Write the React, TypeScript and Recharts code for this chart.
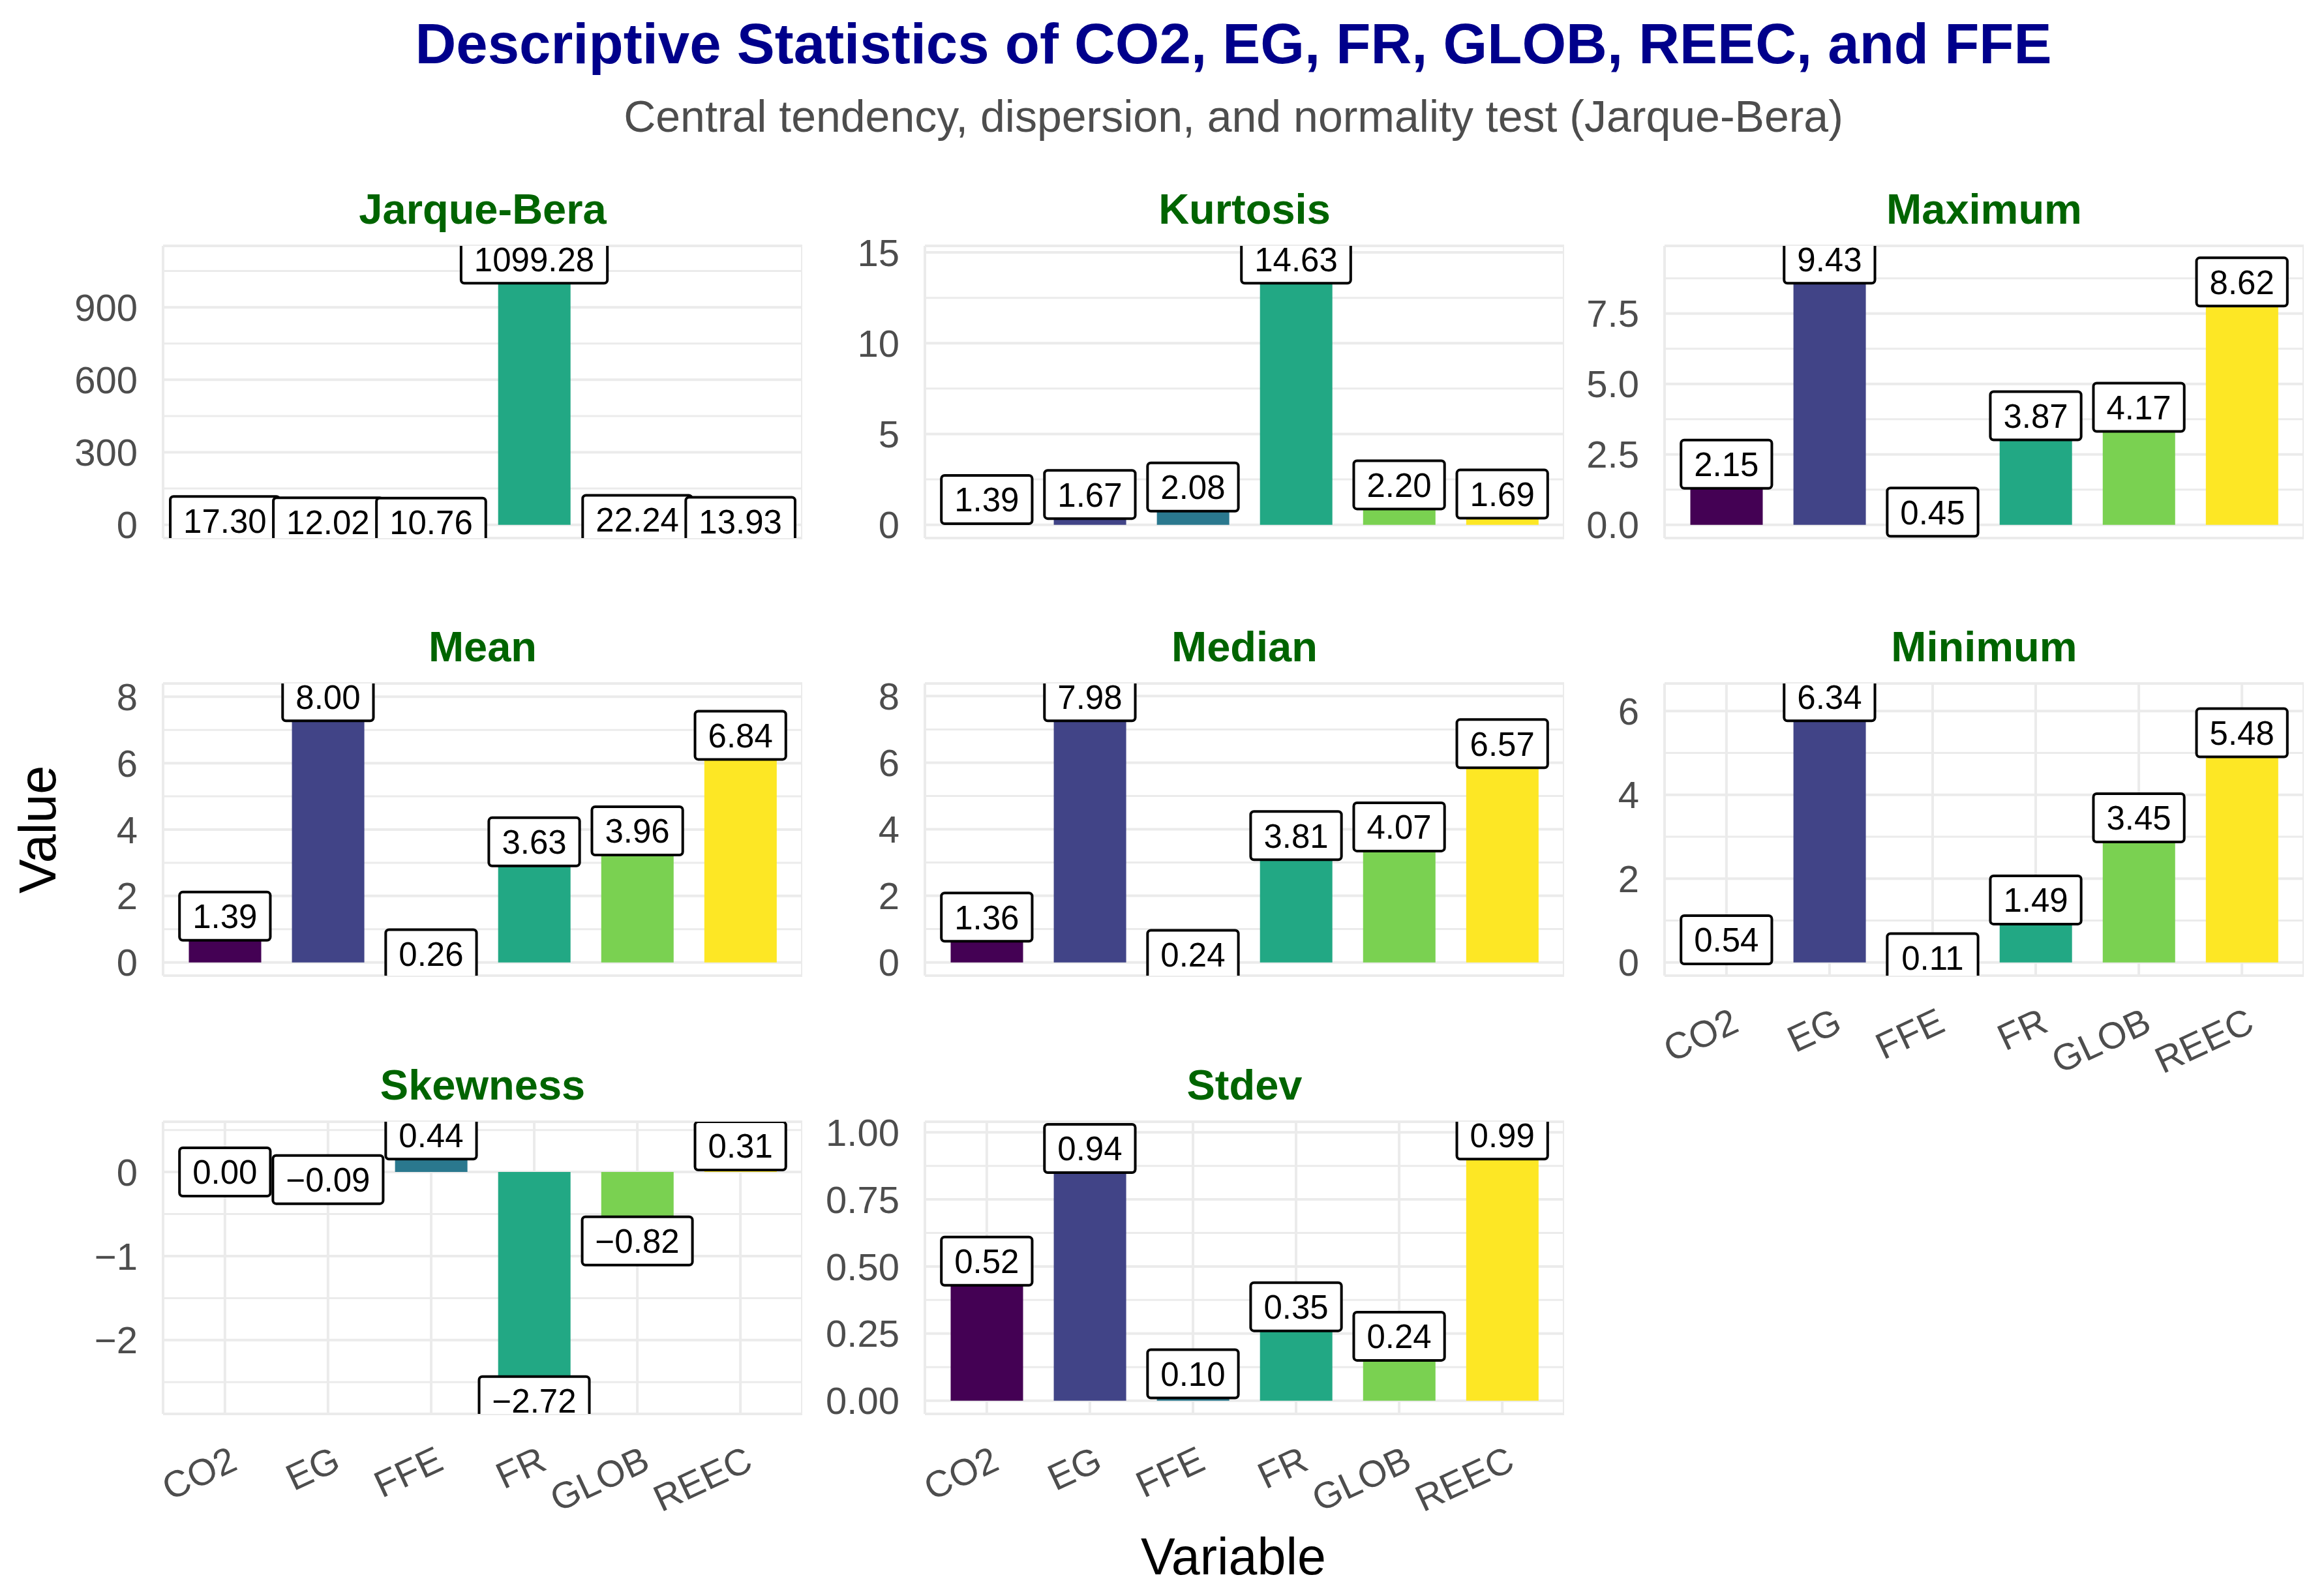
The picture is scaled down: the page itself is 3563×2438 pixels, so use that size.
import React from "react"
import { Bar, CartesianGrid, Cell, ComposedChart, Line, XAxis, YAxis } from "recharts"

// ---- data ----
const VARIABLES = ["CO2", "EG", "FFE", "FR", "GLOB", "REEC"]
const VIRIDIS = ["#440154", "#414487", "#2A788E", "#22A884", "#7AD151", "#FDE725"]

const jarqueBera = [17.3, 12.02, 10.76, 1099.28, 22.24, 13.93]
const kurtosis = [1.39, 1.67, 2.08, 14.63, 2.2, 1.69]
const maximum = [2.15, 9.43, 0.45, 3.87, 4.17, 8.62]
const mean = [1.39, 8.0, 0.26, 3.63, 3.96, 6.84]
const median = [1.36, 7.98, 0.24, 3.81, 4.07, 6.57]
const minimum = [0.54, 6.34, 0.11, 1.49, 3.45, 5.48]
const skewness = [0.0, -0.09, 0.44, -2.72, -0.82, 0.31]
const stdev = [0.52, 0.94, 0.1, 0.35, 0.24, 0.99]

// axis breaks
const jbTicks = [0, 300, 600, 900]
const jbMinor = [150, 450, 750, 1050]
const kurtTicks = [0, 5, 10, 15]
const kurtMinor = [2.5, 7.5, 12.5]
const maxTicks = [0, 2.5, 5, 7.5]
const maxMinor = [1.25, 3.75, 6.25, 8.75]
const meanTicks = [0, 2, 4, 6, 8]
const meanMinor = [1, 3, 5, 7]
const minTicks = [0, 2, 4, 6]
const minMinor = [1, 3, 5]
const skewTicks = [-2, -1, 0]
const skewMinor = [-2.5, -1.5, -0.5, 0.5]
const sdTicks = [0, 0.25, 0.5, 0.75, 1]
const sdMinor = [0.125, 0.375, 0.625, 0.875]

// ---- layout ----
const FONT = '"Liberation Sans", Arial, Helvetica, sans-serif'
const COL_LEFT = [250, 1418, 2552]
const ROW_TOP = [377, 1048, 1720]
const PLOT_W = 980
const PLOT_H = 448
const YW = 230
const MT = 50
const XH = 160
const PAD = 15.8
const LABEL_SIZE = 51
const GRID = "#EBEBEB"

const minus = (s: string) => s.replace("-", "\u2212")
const int = (v: number) => minus(String(v))
const fix1 = (v: number) => minus(v.toFixed(1))
const fix2 = (v: number) => minus(v.toFixed(2))

type Panel = {
  key: string
  title: string
  values: number[]
  ticks: number[]
  minor: number[]
  fmt: (v: number) => string
  row: number
  col: number
  showX: boolean
}

const PANELS: Panel[] = [
  { key: "jb", title: "Jarque-Bera", values: jarqueBera, ticks: jbTicks, minor: jbMinor, fmt: int, row: 0, col: 0, showX: false },
  { key: "ku", title: "Kurtosis", values: kurtosis, ticks: kurtTicks, minor: kurtMinor, fmt: int, row: 0, col: 1, showX: false },
  { key: "mx", title: "Maximum", values: maximum, ticks: maxTicks, minor: maxMinor, fmt: fix1, row: 0, col: 2, showX: false },
  { key: "me", title: "Mean", values: mean, ticks: meanTicks, minor: meanMinor, fmt: int, row: 1, col: 0, showX: false },
  { key: "md", title: "Median", values: median, ticks: meanTicks, minor: meanMinor, fmt: int, row: 1, col: 1, showX: false },
  { key: "mn", title: "Minimum", values: minimum, ticks: minTicks, minor: minMinor, fmt: int, row: 1, col: 2, showX: true },
  { key: "sk", title: "Skewness", values: skewness, ticks: skewTicks, minor: skewMinor, fmt: int, row: 2, col: 0, showX: true },
  { key: "sd", title: "Stdev", values: stdev, ticks: sdTicks, minor: sdMinor, fmt: fix2, row: 2, col: 1, showX: true },
]

function textWidth(s: string, size: number) {
  let w = 0
  for (const ch of s) w += ch === "." ? 0.278 : ch === "\u2212" ? 0.584 : 0.556
  return w * size
}

// ggplot-style 5% expansion around data (bars start at 0)
function domainOf(values: number[]): [number, number] {
  const lo = Math.min(0, ...values)
  const hi = Math.max(0, ...values)
  const r = hi - lo
  return [lo - 0.05 * r, hi + 0.05 * r]
}

// geom_label look-alike, centred on the value point, clipped to the panel
function makeLabel(p: Panel) {
  return (props: any) => {
    const vb = props.viewBox || {}
    const x = props.x ?? vb.x
    const y = props.y ?? vb.y
    const index = props.index
    const v = typeof props.value === "number" ? props.value : p.values[index]
    if (x == null || y == null || v == null) return null
    const txt = fix2(v)
    const w = textWidth(txt, LABEL_SIZE) + 40
    const h = 74
    const id = `clip-${p.key}-${index}`
    return (
      <g key={id}>
        <defs>
          <clipPath id={id}>
            <rect x={YW} y={MT} width={PLOT_W} height={PLOT_H} />
          </clipPath>
        </defs>
        <g clipPath={`url(#${id})`}>
          <rect x={x - w / 2} y={y - h / 2} width={w} height={h} rx={5} fill="#fff" stroke="#000" strokeWidth={4} />
          <text x={x} y={y} dy="0.36em" textAnchor="middle" fontSize={LABEL_SIZE} fontFamily={FONT} fill="#000">
            {txt}
          </text>
        </g>
      </g>
    )
  }
}

function XTick({ x, y, payload }: any) {
  return (
    <g transform={`translate(${x + 22},${y + 84})`}>
      <text transform="rotate(-25)" textAnchor="end" fontSize={57} fontFamily={FONT} fill="#4D4D4D">
        {payload.value}
      </text>
    </g>
  )
}

function PanelChart({ p }: { p: Panel }) {
  const [lo, hi] = domainOf(p.values)
  const data = VARIABLES.map((name, i) => ({ name, value: p.values[i] }))
  const minorGen = ({ yAxis, offset }: any) => {
    const s = yAxis && yAxis.scale
    if (typeof s === "function") return p.minor.map((v) => s(v))
    const top = offset?.top ?? MT
    const h = offset?.height ?? PLOT_H
    return p.minor.map((v) => top + (h * (hi - v)) / (hi - lo))
  }
  return (
    <div style={{ position: "absolute", left: COL_LEFT[p.col] - YW, top: ROW_TOP[p.row] - MT }}>
      <ComposedChart
        width={YW + PLOT_W}
        height={MT + PLOT_H + XH}
        data={data}
        margin={{ top: MT, right: 0, left: 0, bottom: 0 }}
        barCategoryGap="15%"
      >
        <CartesianGrid vertical={false} stroke={GRID} strokeWidth={3} horizontalCoordinatesGenerator={minorGen} />
        <CartesianGrid stroke={GRID} strokeWidth={4} />
        <XAxis
          dataKey="name"
          type="category"
          height={XH}
          padding={{ left: PAD, right: PAD }}
          axisLine={false}
          tickLine={false}
          tickSize={0}
          tickMargin={0}
          interval={0}
          tick={p.showX ? <XTick /> : false}
        />
        <YAxis
          type="number"
          width={YW}
          domain={[lo, hi]}
          ticks={p.ticks}
          tickFormatter={p.fmt}
          axisLine={false}
          tickLine={false}
          tickSize={0}
          tickMargin={39}
          interval={0}
          tick={{ fontSize: 58, fill: "#4D4D4D", fontFamily: FONT }}
        />
        <Bar dataKey="value" isAnimationActive={false}>
          {data.map((_, i) => (
            <Cell key={i} fill={VIRIDIS[i % VIRIDIS.length]} />
          ))}
        </Bar>
        <Line
          dataKey="value"
          stroke="none"
          dot={false}
          activeDot={false}
          isAnimationActive={false}
          label={makeLabel(p)}
        />
      </ComposedChart>
    </div>
  )
}

export default function App() {
  const centerX = (COL_LEFT[0] + COL_LEFT[2] + PLOT_W) / 2
  return (
    <div style={{ position: "absolute", left: 0, top: 0, width: 3563, height: 2438, background: "#fff", overflow: "hidden" }}>
      {PANELS.map((p) => (
        <PanelChart key={p.key} p={p} />
      ))}
      <svg width={3563} height={2438} style={{ position: "absolute", left: 0, top: 0, pointerEvents: "none" }}>
        <text x={centerX} y={97} textAnchor="middle" fontSize={87} fontWeight="bold" fontFamily={FONT} fill="#00008B">
          Descriptive Statistics of CO2, EG, FR, GLOB, REEC, and FFE
        </text>
        <text x={centerX} y={202} textAnchor="middle" fontSize={68} fontFamily={FONT} fill="#4D4D4D">
          Central tendency, dispersion, and normality test (Jarque-Bera)
        </text>
        {PANELS.map((p) => (
          <text
            key={p.key}
            x={COL_LEFT[p.col] + PLOT_W / 2}
            y={ROW_TOP[p.row] - 34}
            textAnchor="middle"
            fontSize={65}
            fontWeight="bold"
            fontFamily={FONT}
            fill="#006400"
          >
            {p.title}
          </text>
        ))}
        <text x={85} y={1272} transform="rotate(-90, 85, 1272)" textAnchor="middle" fontSize={79} fontFamily={FONT} fill="#000">
          Value
        </text>
        <text x={centerX} y={2414} textAnchor="middle" fontSize={79} fontFamily={FONT} fill="#000">
          Variable
        </text>
      </svg>
    </div>
  )
}
